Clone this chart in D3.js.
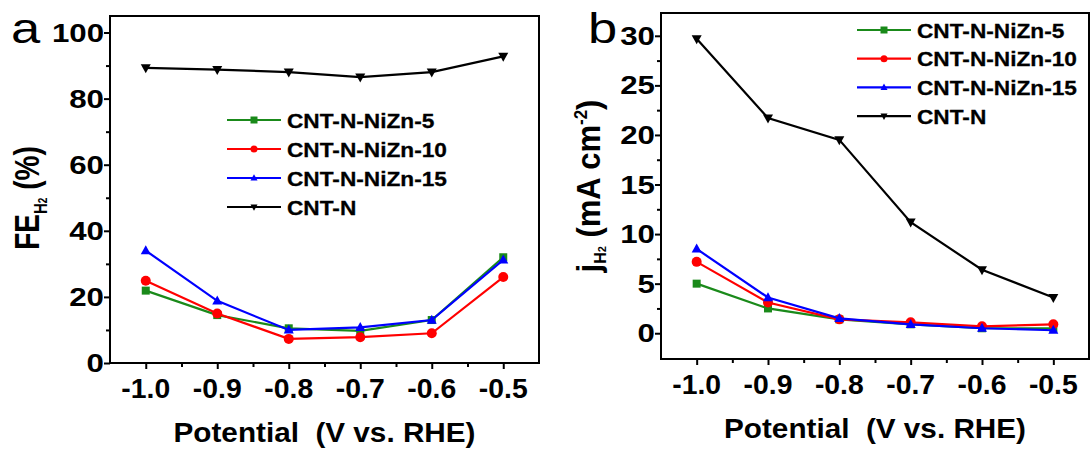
<!DOCTYPE html>
<html>
<head>
<meta charset="utf-8">
<script src="https://cdn.jsdelivr.net/npm/d3@7"></script>
<style>
  html, body { margin: 0; padding: 0; background: #fff; }
  svg { display: block; }
  text { font-family: "Liberation Sans", Arial, sans-serif; fill: #000; }
</style>
</head>
<body>
<svg id="chart" width="1091" height="452"></svg>
<script>
// Shared x values: applied potential (V vs. RHE)
const potentials = [-1.0, -0.9, -0.8, -0.7, -0.6, -0.5];
const xTickLabels = ["-1.0", "-0.9", "-0.8", "-0.7", "-0.6", "-0.5"];

const seriesNames = ["CNT-N-NiZn-5", "CNT-N-NiZn-10", "CNT-N-NiZn-15", "CNT-N"];
const seriesColors = ["#1a8a1a", "#ff0000", "#0000ff", "#000000"];
const seriesSymbols = ["square", "circle", "triangle", "triangleDown"];

// Panel a: Faradaic efficiency of H2 (%)
const feNiZn5  = [21.9, 14.5, 10.5, 9.7, 13.0, 32.0];
const feNiZn10 = [24.9, 15.0, 7.3, 7.8, 9.0, 26.0];
const feNiZn15 = [34.0, 18.8, 10.0, 10.8, 13.0, 31.2];
const feCNTN   = [89.3, 88.8, 88.0, 86.5, 88.0, 92.8];
const feTicks  = [0, 20, 40, 60, 80, 100];

// Panel b: partial current density of H2 (mA cm^-2)
const jNiZn5  = [5.0, 2.5, 1.4, 0.9, 0.5, 0.5];
const jNiZn10 = [7.2, 3.1, 1.4, 1.1, 0.7, 0.9];
const jNiZn15 = [8.5, 3.6, 1.5, 0.9, 0.5, 0.3];
const jCNTN   = [29.7, 21.7, 19.5, 11.2, 6.4, 3.6];
const jTicks  = [0, 5, 10, 15, 20, 25, 30];

const svg = d3.select("#chart");

function symbolPath(kind, size) {
  const s = size;
  if (kind === "square") return `M${-s/2},${-s/2}h${s}v${s}h${-s}Z`;
  if (kind === "circle") return d3.symbol(d3.symbolCircle, Math.PI * (s/2) * (s/2))();
  const h = s * 0.9;
  if (kind === "triangle") return `M0,${-h*0.6}L${s/2},${h*0.4}L${-s/2},${h*0.4}Z`;
  return `M0,${h*0.6}L${s/2},${-h*0.4}L${-s/2},${-h*0.4}Z`;
}

// Text widened horizontally to the look of the figure's typeface
function wideText(g, x, y, str, size, sx, anchor, weight) {
  return g.append("text")
    .attr("transform", `translate(${x},${y}) scale(${sx},1)`)
    .attr("text-anchor", anchor || "start")
    .attr("font-size", size)
    .attr("font-weight", weight || "bold")
    .text(str);
}

function drawPanel(cfg) {
  const g = svg.append("g");
  const x = d3.scaleLinear().domain([-1.05, -0.45]).range([cfg.left, cfg.right]);
  const y = d3.scaleLinear().domain(cfg.yDomain).range([cfg.bottom, cfg.top]);

  // Frame
  g.append("rect")
    .attr("x", cfg.left).attr("y", cfg.top)
    .attr("width", cfg.right - cfg.left).attr("height", cfg.bottom - cfg.top)
    .attr("fill", "none").attr("stroke", "#000").attr("stroke-width", 2);

  // Bottom axis: major ticks at labels, minor between
  const gx = g.append("g").attr("transform", `translate(0,${cfg.bottom})`)
    .call(d3.axisBottom(x).tickValues(potentials).tickSize(6).tickFormat(""));
  gx.select(".domain").remove();
  gx.selectAll(".tick line").attr("stroke-width", 2);
  const xMinor = potentials.slice(0, -1).map(v => v + 0.05);
  const gxm = g.append("g").attr("transform", `translate(0,${cfg.bottom})`)
    .call(d3.axisBottom(x).tickValues(xMinor).tickSize(4).tickFormat(""));
  gxm.select(".domain").remove();
  gxm.selectAll(".tick line").attr("stroke-width", 2);
  potentials.forEach((p, i) => {
    wideText(g, x(p), cfg.bottom + 35, xTickLabels[i], 27, 1.05, "middle");
  });

  // Left axis
  const gy = g.append("g").attr("transform", `translate(${cfg.left},0)`)
    .call(d3.axisLeft(y).tickValues(cfg.yTicks).tickSize(6).tickFormat(""));
  gy.select(".domain").remove();
  gy.selectAll(".tick line").attr("stroke-width", 2);
  const gym = g.append("g").attr("transform", `translate(${cfg.left},0)`)
    .call(d3.axisLeft(y).tickValues(cfg.yMinor).tickSize(4).tickFormat(""));
  gym.select(".domain").remove();
  gym.selectAll(".tick line").attr("stroke-width", 2);
  cfg.yTicks.forEach(t => {
    wideText(g, cfg.left - 6, y(t) + 9, String(t), 25, 1.25, "end");
  });

  // Series lines and markers
  cfg.series.forEach((vals, si) => {
    const pts = potentials.map((p, i) => [x(p), y(vals[i])]);
    g.append("path")
      .attr("d", d3.line()(pts))
      .attr("fill", "none")
      .attr("stroke", seriesColors[si])
      .attr("stroke-width", 2.2);
    g.selectAll(null).data(pts).enter().append("path")
      .attr("transform", d => `translate(${d[0]},${d[1]})`)
      .attr("d", symbolPath(seriesSymbols[si], seriesSymbols[si] === "square" ? 8 : 10))
      .attr("fill", seriesColors[si]);
  });

  // Legend
  seriesNames.forEach((name, si) => {
    const ly = cfg.legendY + si * cfg.legendStep;
    g.append("line")
      .attr("x1", cfg.legendX).attr("x2", cfg.legendX + 54)
      .attr("y1", ly).attr("y2", ly)
      .attr("stroke", seriesColors[si]).attr("stroke-width", 2.2);
    g.append("path")
      .attr("transform", `translate(${cfg.legendX + 27},${ly})`)
      .attr("d", symbolPath(seriesSymbols[si], 7))
      .attr("fill", seriesColors[si]);
    wideText(g, cfg.legendX + 60, ly + 7.5, name, 21, 1.08, "start")
      .attr("stroke", "#000").attr("stroke-width", 0.3);
  });

  // X title
  wideText(g, (cfg.left + cfg.right) / 2, cfg.titleY, "Potential\u00A0 (V vs. RHE)", 27, 1.1, "middle");

  // Panel letter
  wideText(g, cfg.letterX, 43, cfg.letter, 42, 1.25, "start", "normal");

  return { g, x, y };
}

drawPanel({
  left: 110, right: 539, top: 16, bottom: 363,
  yDomain: [0, 105], yTicks: feTicks, yMinor: [10, 30, 50, 70, 90],
  series: [feNiZn5, feNiZn10, feNiZn15, feCNTN],
  legendX: 227, legendY: 120, legendStep: 29,
  letter: "a", letterX: 11, titleY: 442
});

drawPanel({
  left: 661, right: 1089, top: 13, bottom: 359,
  yDomain: [-2.6, 32.3], yTicks: jTicks, yMinor: [2.5, 7.5, 12.5, 17.5, 22.5, 27.5],
  series: [jNiZn5, jNiZn10, jNiZn15, jCNTN],
  legendX: 857, legendY: 30, legendStep: 28.7,
  letter: "b", letterX: 588, titleY: 438
});

// Y axis titles (rotated)
const ta = svg.append("text")
  .attr("transform", "translate(39,198) scale(1.28,1) rotate(-90)")
  .attr("text-anchor", "middle").attr("font-size", 28).attr("font-weight", "bold");
ta.append("tspan").text("FE");
ta.append("tspan").attr("font-size", 15).attr("dy", 6).text("H");
ta.append("tspan").attr("font-size", 10).attr("dy", 0).text("2");
ta.append("tspan").attr("dy", -6).text("\u00A0(%)");

const tb = svg.append("text")
  .attr("transform", "translate(600,186) scale(1.06,1) rotate(-90)")
  .attr("text-anchor", "middle").attr("font-size", 31).attr("font-weight", "bold");
tb.append("tspan").text("j");
tb.append("tspan").attr("font-size", 16).attr("dy", 6).text("H");
tb.append("tspan").attr("font-size", 11).attr("dy", 0).text("2");
tb.append("tspan").attr("dy", -6).text("\u00A0(mA cm");
tb.append("tspan").attr("font-size", 17).attr("dy", -12).text("-2");
tb.append("tspan").attr("dy", 12).text(")");
</script>
</body>
</html>
